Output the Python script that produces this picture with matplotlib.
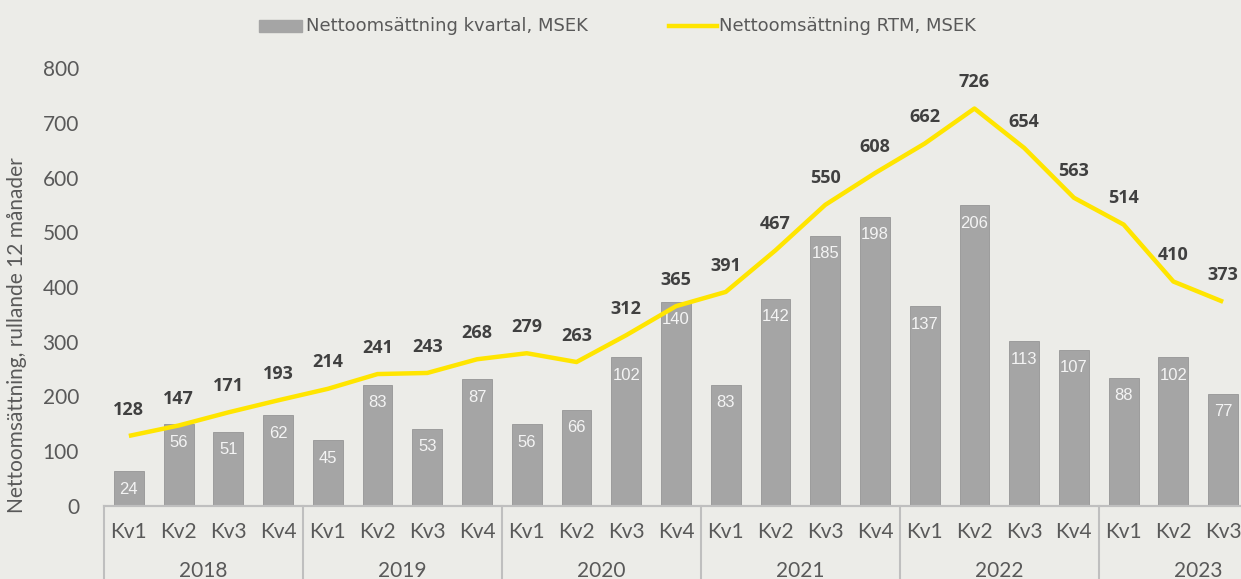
import numpy as np
import matplotlib
matplotlib.use("Agg")
import matplotlib.pyplot as plt
from matplotlib.patches import Rectangle
from matplotlib.lines import Line2D

quarters = ["Kv1", "Kv2", "Kv3", "Kv4"] * 5 + ["Kv1", "Kv2", "Kv3"]
years = ["2018", "2019", "2020", "2021", "2022", "2023"]
kvartal = [24, 56, 51, 62, 45, 83, 53, 87, 56, 66, 102, 140,
           83, 142, 185, 198, 137, 206, 113, 107, 88, 102, 77]
rtm = [128, 147, 171, 193, 214, 241, 243, 268, 279, 263, 312, 365,
       391, 467, 550, 608, 662, 726, 654, 563, 514, 410, 373]

bg = "#ECECE8"
bar_col = "#A5A5A5"
line_col = "#FFE500"
txt_col = "#595959"
W, H = 1241, 579

fig = plt.figure(figsize=(W / 100, H / 100), dpi=100, facecolor=bg)
ax = fig.add_axes([104 / W, 73 / H, 1144 / W, 438 / H])
ax.set_facecolor(bg)
x = np.arange(len(kvartal))

# staplar på dold sekundär skala (0-300)
ax.bar(x, kvartal, width=0.6, color=bar_col, edgecolor="#959595", linewidth=0.6)
ax.set_ylim(0, 300)
ax.set_xlim(-0.5, len(kvartal) - 0.5)
for xi, v in zip(x, kvartal):
    ax.annotate(str(v), (xi, v), xytext=(0, -13), textcoords="offset points",
                ha="center", va="center", color="#F4F4F4", fontsize=12,
                family="Liberation Sans")

ax2 = ax.twinx()
ax2.plot(x, rtm, color=line_col, lw=3.2, solid_capstyle="butt")
ax2.set_ylim(0, 800)
ax2.yaxis.tick_left()
ax2.set_yticks(range(0, 801, 100))
for xi, v in zip(x, rtm):
    ax2.annotate(str(v), (xi, v), xytext=(0, 19), textcoords="offset points",
                 ha="center", va="center", color="#404040", fontsize=13,
                 fontweight="bold", family="Open Sans")

ax.set_yticks([])
ax.set_xticks([])
for a in (ax, ax2):
    for s in ["top", "right", "left"]:
        a.spines[s].set_visible(False)
    a.spines["bottom"].set_color("#BFBFBF")
    a.spines["bottom"].set_linewidth(1.5)
ax2.tick_params(axis="y", length=0, pad=18, labelsize=15, labelcolor=txt_col)
for lab in ax2.get_yticklabels():
    lab.set_family("Lato")

# kategoriaxel: kvartal och årsrutor
tr = ax.get_xaxis_transform()
for xi, q in zip(x, quarters):
    ax.text(xi, -0.059, q, transform=tr, ha="center", va="center",
            fontsize=15, color=txt_col, family="Lato")
for i, yr in enumerate(years):
    ax.text(i * 4 + 1.5, -0.148, yr, transform=tr, ha="center", va="center",
            fontsize=15, color=txt_col, family="Lato")
for i in range(len(years) + 1):
    ax.plot([i * 4 - 0.5, i * 4 - 0.5], [0, -0.25], transform=tr,
            color="#BFBFBF", lw=1.5, clip_on=False)

fig.text(17 / W, 1 - 335 / H, "Nettoomsättning, rullande 12 månader",
         rotation=90, ha="center", va="center", fontsize=15, color=txt_col,
         family="Lato")

# legend
ly = 1 - 26 / H
fig.patches.append(Rectangle((259 / W, 1 - 32 / H), 43 / W, 12 / H,
                             transform=fig.transFigure, color=bar_col))
fig.lines.append(Line2D([669 / W, 717 / W], [ly, ly], transform=fig.transFigure,
                        color=line_col, lw=3.2))
fig.text(306 / W, ly, "Nettoomsättning kvartal, MSEK", ha="left", va="center",
         fontsize=13, color=txt_col, family="DejaVu Sans")
fig.text(719 / W, ly, "Nettoomsättning RTM, MSEK", ha="left", va="center",
         fontsize=13, color=txt_col, family="DejaVu Sans")

fig.savefig("out.png", dpi=100, facecolor=bg)
